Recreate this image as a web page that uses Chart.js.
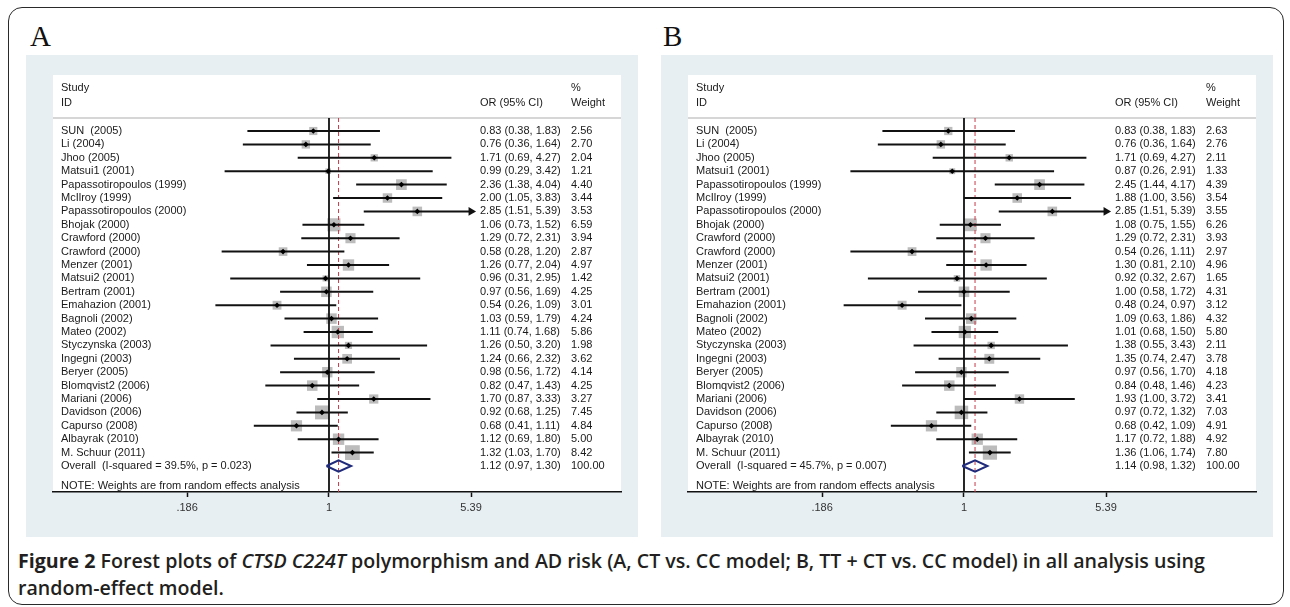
<!DOCTYPE html>
<html>
<head>
<meta charset="utf-8">
<script src="https://cdn.jsdelivr.net/npm/chart.js@4/dist/chart.umd.min.js"></script>
<style>
  body { margin: 0; width: 1290px; height: 607px; background: #fff; position: relative; overflow: hidden; font-family: "Liberation Sans", Arial, sans-serif; }
  #frame { position: absolute; left: 8px; top: 7px; width: 1276px; height: 598px; border: 1.5px solid #2a2a2a; border-radius: 14px; box-sizing: border-box; }
  .letter { position: absolute; top: 22px; font-family: "Liberation Serif", "Times New Roman", serif; font-size: 29px; color: #111; line-height: 1; }
  .panel { position: absolute; top: 55px; width: 612px; height: 482px; background: #e7eff2; }
  .panel canvas { position: absolute; left: 0; top: 0; }
  #caption { position: absolute; left: 18px; top: 548px; font-family: "Open Sans", sans-serif; font-size: 19px; font-weight: 600; color: #231f20; line-height: 27px; white-space: nowrap; transform-origin: 0 0; }
  #caption span.line { display: block; width: max-content; }
  #caption b { font-weight: 700; }
</style>
</head>
<body>
<div id="frame"></div>
<div class="letter" style="left:30px">A</div>
<div class="letter" style="left:663px">B</div>
<div class="panel" style="left:26px"><canvas id="plot_a" width="612" height="482"></canvas></div>
<div class="panel" style="left:661px"><canvas id="plot_b" width="612" height="482"></canvas></div>
<div id="caption">
  <span class="line" id="cap_1"><b>Figure 2</b> Forest plots of <i>CTSD C224T</i> polymorphism and AD risk (A, CT vs. CC model; B, TT + CT vs. CC model) in all analysis using</span>
  <span class="line">random-effect model.</span>
</div>
<script>
// Estudios (mismo orden en las dos gráficas)
const studies = [
  'SUN  (2005)', 'Li (2004)', 'Jhoo (2005)', 'Matsui1 (2001)', 'Papassotiropoulos (1999)',
  'McIlroy (1999)', 'Papassotiropoulos (2000)', 'Bhojak (2000)', 'Crawford (2000)', 'Crawford (2000)',
  'Menzer (2001)', 'Matsui2 (2001)', 'Bertram (2001)', 'Emahazion (2001)', 'Bagnoli (2002)',
  'Mateo (2002)', 'Styczynska (2003)', 'Ingegni (2003)', 'Beryer (2005)', 'Blomqvist2 (2006)',
  'Mariani (2006)', 'Davidson (2006)', 'Capurso (2008)', 'Albayrak (2010)', 'M. Schuur (2011)'
];

// A: CT vs. CC
const or_a = [0.83, 0.76, 1.71, 0.99, 2.36, 2.00, 2.85, 1.06, 1.29, 0.58, 1.26, 0.96, 0.97, 0.54, 1.03, 1.11, 1.26, 1.24, 0.98, 0.82, 1.70, 0.92, 0.68, 1.12, 1.32];
const low_a = [0.38, 0.36, 0.69, 0.29, 1.38, 1.05, 1.51, 0.73, 0.72, 0.28, 0.77, 0.31, 0.56, 0.26, 0.59, 0.74, 0.50, 0.66, 0.56, 0.47, 0.87, 0.68, 0.41, 0.69, 1.03];
const high_a = [1.83, 1.64, 4.27, 3.42, 4.04, 3.83, 5.39, 1.52, 2.31, 1.20, 2.04, 2.95, 1.69, 1.09, 1.79, 1.68, 3.20, 2.32, 1.72, 1.43, 3.33, 1.25, 1.11, 1.80, 1.70];
const weight_a = [2.56, 2.70, 2.04, 1.21, 4.40, 3.44, 3.53, 6.59, 3.94, 2.87, 4.97, 1.42, 4.25, 3.01, 4.24, 5.86, 1.98, 3.62, 4.14, 4.25, 3.27, 7.45, 4.84, 5.00, 8.42];
const overall_a = [1.12, 0.97, 1.30, 100.00];
const overall_label_a = 'Overall  (I-squared = 39.5%, p = 0.023)';

// B: TT + CT vs. CC
const or_b = [0.83, 0.76, 1.71, 0.87, 2.45, 1.88, 2.85, 1.08, 1.29, 0.54, 1.30, 0.92, 1.00, 0.48, 1.09, 1.01, 1.38, 1.35, 0.97, 0.84, 1.93, 0.97, 0.68, 1.17, 1.36];
const low_b = [0.38, 0.36, 0.69, 0.26, 1.44, 1.00, 1.51, 0.75, 0.72, 0.26, 0.81, 0.32, 0.58, 0.24, 0.63, 0.68, 0.55, 0.74, 0.56, 0.48, 1.00, 0.72, 0.42, 0.72, 1.06];
const high_b = [1.83, 1.64, 4.27, 2.91, 4.17, 3.56, 5.39, 1.55, 2.31, 1.11, 2.10, 2.67, 1.72, 0.97, 1.86, 1.50, 3.43, 2.47, 1.70, 1.46, 3.72, 1.32, 1.09, 1.88, 1.74];
const weight_b = [2.63, 2.76, 2.11, 1.33, 4.39, 3.54, 3.55, 6.26, 3.93, 2.97, 4.96, 1.65, 4.31, 3.12, 4.32, 5.80, 2.11, 3.78, 4.18, 4.23, 3.41, 7.03, 4.91, 4.92, 7.80];
const overall_b = [1.14, 0.98, 1.32, 100.00];
const overall_label_b = 'Overall  (I-squared = 45.7%, p = 0.007)';

// Eje X (escala logarítmica)
const tick_values = [0.186, 1, 5.39];
const tick_labels = ['.186', '1', '5.39'];
const note_text = 'NOTE: Weights are from random effects analysis';

const x_min = 0.0379, x_max = 31.9; // rango para que la línea del 1 quede en su sitio
const y_min = -4.18, y_max = 26.94; // filas: 0..24 estudios, 25 = overall
const y_rule = -0.97; // línea gris bajo la cabecera

// Texto de las columnas y fondo blanco del área
const forest_text = {
  id: 'forest_text',
  beforeDraw(chart) {
    const a = chart.chartArea;
    const ctx = chart.ctx;
    ctx.save();
    ctx.fillStyle = '#ffffff';
    ctx.fillRect(a.left, a.top, a.right - a.left, a.bottom - a.top);
    const y = chart.scales.y.getPixelForValue(y_rule);
    ctx.strokeStyle = '#d6d6d6';
    ctx.lineWidth = 2;
    ctx.beginPath();
    ctx.moveTo(a.left, y);
    ctx.lineTo(a.right, y);
    ctx.stroke();
    ctx.restore();
  },
  afterDatasetsDraw(chart, args, opts) {
    const a = chart.chartArea;
    const ys = chart.scales.y;
    const ctx = chart.ctx;
    const col_name = a.left + 8, col_or = a.left + 427, col_w = a.left + 518;
    const f2 = v => v.toFixed(2);
    ctx.save();
    ctx.fillStyle = '#1a1a1a';
    ctx.font = '11px "Liberation Sans", Arial, sans-serif';
    ctx.textBaseline = 'middle';
    ctx.textAlign = 'left';
    ctx.fillText('Study', col_name, ys.getPixelForValue(-3.21));
    ctx.fillText('ID', col_name, ys.getPixelForValue(-2.09));
    ctx.fillText('OR (95% CI)', col_or, ys.getPixelForValue(-2.09));
    ctx.fillText('%', col_w, ys.getPixelForValue(-3.21));
    ctx.fillText('Weight', col_w, ys.getPixelForValue(-2.09));
    opts.names.forEach((name, i) => {
      const y = ys.getPixelForValue(i);
      ctx.fillText(name, col_name, y);
      ctx.fillText(f2(opts.or[i]) + ' (' + f2(opts.low[i]) + ', ' + f2(opts.high[i]) + ')', col_or, y);
      ctx.fillText(f2(opts.weight[i]), col_w, y);
    });
    const n = opts.names.length;
    const yo = ys.getPixelForValue(n);
    ctx.fillText(opts.overall_label, col_name, yo);
    ctx.fillText(f2(opts.overall[0]) + ' (' + f2(opts.overall[1]) + ', ' + f2(opts.overall[2]) + ')', col_or, yo);
    ctx.fillText(f2(opts.overall[3]), col_w, yo);
    ctx.fillText(note_text, col_name, ys.getPixelForValue(26.49));
    ctx.restore();
  }
};

function build_datasets(or, low, high, weight, overall) {
  const n = or.length;
  const datasets = [];
  // cuadros de peso
  datasets.push({
    type: 'scatter',
    data: or.map((v, i) => ({ x: v, y: i })),
    pointStyle: 'rect',
    pointRadius: c => Math.sqrt(weight[c.dataIndex]) * 3.6,
    backgroundColor: '#bcbcbc',
    borderWidth: 0,
    order: 6
  });
  // intervalos de confianza
  low.forEach((l, i) => {
    datasets.push({
      type: 'line',
      data: [{ x: l, y: i }, { x: high[i], y: i }],
      borderColor: '#111',
      borderWidth: 2,
      pointRadius: 0,
      order: 3
    });
  });
  // flecha cuando el intervalo llega al límite del eje
  datasets.push({
    type: 'scatter',
    data: high.map((h, i) => ({ x: h, y: i })).filter(p => p.x >= tick_values[2]),
    pointStyle: 'triangle',
    pointRotation: 90,
    pointRadius: 5,
    backgroundColor: '#111',
    borderWidth: 0,
    order: 2
  });
  // estimación puntual
  datasets.push({
    type: 'scatter',
    data: or.map((v, i) => ({ x: v, y: i })),
    pointStyle: 'rectRot',
    pointRadius: 2.8,
    backgroundColor: '#000',
    borderWidth: 0,
    order: 1
  });
  // diamante del efecto global
  datasets.push({
    type: 'line',
    data: [
      { x: overall[1], y: n }, { x: overall[0], y: n - 0.42 },
      { x: overall[2], y: n }, { x: overall[0], y: n + 0.42 }, { x: overall[1], y: n }
    ],
    borderColor: '#1f2a7a',
    borderWidth: 2,
    pointRadius: 0,
    order: 2
  });
  // línea de no efecto
  datasets.push({
    type: 'line',
    data: [{ x: 1, y: y_rule }, { x: 1, y: y_max }],
    borderColor: '#111',
    borderWidth: 1.8,
    pointRadius: 0,
    order: 4
  });
  // línea discontinua del efecto global
  datasets.push({
    type: 'line',
    data: [{ x: overall[0], y: y_rule }, { x: overall[0], y: y_max }],
    borderColor: '#c83a48',
    borderWidth: 1,
    borderDash: [4, 3],
    pointRadius: 0,
    order: 5
  });
  return datasets;
}

function make_forest(canvas_id, or, low, high, weight, overall, overall_label) {
  const context = document.getElementById(canvas_id).getContext('2d');
  return new Chart(context, {
    type: 'scatter',
    data: { datasets: build_datasets(or, low, high, weight, overall) },
    options: {
      responsive: false,
      animation: false,
      events: [],
      layout: { padding: { left: 27, right: 17, top: 20, bottom: 17 } },
      plugins: {
        legend: { display: false },
        tooltip: { enabled: false },
        forest_text: { names: studies, or: or, low: low, high: high, weight: weight, overall: overall, overall_label: overall_label }
      },
      scales: {
        x: {
          type: 'logarithmic',
          min: x_min,
          max: x_max,
          bounds: 'data',
          afterBuildTicks: s => { s.ticks = tick_values.map(v => ({ value: v })); },
          afterFit: s => { s.height = 28; },
          ticks: {
            autoSkip: false,
            maxRotation: 0,
            padding: 4,
            color: '#333',
            font: { family: '"Liberation Sans", Arial, sans-serif', size: 11 },
            callback: (v, i) => tick_labels[i]
          },
          grid: { drawOnChartArea: false, drawTicks: true, tickLength: 5, tickColor: '#111', tickWidth: 1.5 },
          border: { display: true, color: '#111', width: 1.5 }
        },
        y: { type: 'linear', min: y_min, max: y_max, reverse: true, display: false }
      }
    },
    plugins: [forest_text]
  });
}

make_forest('plot_a', or_a, low_a, high_a, weight_a, overall_a, overall_label_a);
make_forest('plot_b', or_b, low_b, high_b, weight_b, overall_b, overall_label_b);

// ajustar el ancho del pie de figura
const caption = document.getElementById('caption');
const line_1 = document.getElementById('cap_1');
const k = 1187 / line_1.getBoundingClientRect().width;
caption.style.transform = 'scaleX(' + k.toFixed(3) + ')';
</script>
</body>
</html>
